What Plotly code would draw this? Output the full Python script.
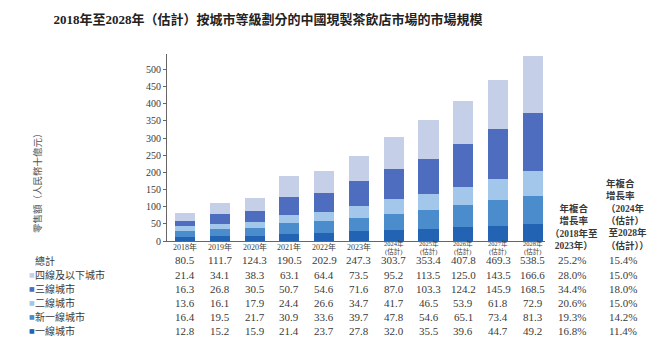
import plotly.graph_objects as go

years = ["2018年", "2019年", "2020年", "2021年", "2022年", "2023年",
         "2024年<br>(估計)", "2025年<br>(估計)", "2026年<br>(估計)", "2027年<br>(估計)", "2028年<br>(估計)"]
total = [80.5, 111.7, 124.3, 190.5, 202.9, 247.3, 303.7, 353.4, 407.8, 469.3, 538.5]
tier4 = [21.4, 34.1, 38.3, 63.1, 64.4, 73.5, 95.2, 113.5, 125.0, 143.5, 166.6]
tier3 = [16.3, 26.8, 30.5, 50.7, 54.6, 71.6, 87.0, 103.3, 124.2, 145.9, 168.5]
tier2 = [13.6, 16.1, 17.9, 24.4, 26.6, 34.7, 41.7, 46.5, 53.9, 61.8, 72.9]
newtier1 = [16.4, 19.5, 21.7, 30.9, 33.6, 39.7, 47.8, 54.6, 65.1, 73.4, 81.3]
tier1 = [12.8, 15.2, 15.9, 21.4, 23.7, 27.8, 32.0, 35.5, 39.6, 44.7, 49.2]
cagr1 = ["25.2%", "28.0%", "34.4%", "20.6%", "19.3%", "16.8%"]
cagr2 = ["15.4%", "15.0%", "18.0%", "15.0%", "14.2%", "11.4%"]
row_labels = ["總計", "四線及以下城市", "三線城市", "二線城市", "新一線城市", "一線城市"]

colors = {
    "一線城市": "#2263B3",
    "新一線城市": "#4B8CCD",
    "二線城市": "#A2C7EB",
    "三線城市": "#4E6DBE",
    "四線及以下城市": "#C5CFE8",
}

SERIF = "Liberation Serif, Noto Sans CJK TC"
CJK = "Noto Sans CJK TC"
TXT = "#3a3a3a"

x = list(range(len(years)))
fig = go.Figure()
for name, vals in [("一線城市", tier1), ("新一線城市", newtier1), ("二線城市", tier2),
                   ("三線城市", tier3), ("四線及以下城市", tier4)]:
    fig.add_trace(go.Bar(x=x, y=vals, name=name, marker_color=colors[name],
                         marker_line_width=0, width=0.58))

ann = []
# x category labels
for i, lab in enumerate(years):
    two = "<br>" in lab
    ann.append(dict(x=i, y=-0.034, xref="x", yref="paper", text=lab, showarrow=False,
                    xanchor="center", yanchor="middle",
                    font=dict(family=SERIF, size=6.5 if two else 8, color=TXT)))

row_y = [-0.104, -0.180, -0.256, -0.331, -0.406, -0.481]
rows = [total, tier4, tier3, tier2, newtier1, tier1]
for r, (yy, vals) in enumerate(zip(row_y, rows)):
    for i, v in enumerate(vals):
        ann.append(dict(x=i, y=yy, xref="x", yref="paper", text=f"{v:.1f}", showarrow=False,
                        xanchor="center", yanchor="middle", font=dict(family=SERIF, size=11, color=TXT)))
    ann.append(dict(x=1.071, y=yy, xref="paper", yref="paper", text=cagr1[r],
                    showarrow=False, xanchor="center", yanchor="middle",
                    font=dict(family=SERIF, size=11, color=TXT)))
    ann.append(dict(x=1.206, y=yy, xref="paper", yref="paper", text=cagr2[r],
                    showarrow=False, xanchor="center", yanchor="middle",
                    font=dict(family=SERIF, size=11, color=TXT)))
    # row label
    ann.append(dict(x=-0.355, y=yy, xref="paper", yref="paper", text=row_labels[r], showarrow=False,
                    xanchor="left", yanchor="middle", font=dict(family=CJK, size=10, color=TXT)))
    if r > 0:
        ann.append(dict(x=-0.370, y=yy, xref="paper", yref="paper", text="■", showarrow=False,
                        xanchor="left", yanchor="middle",
                        font=dict(family="DejaVu Sans", size=6, color=colors[row_labels[r]])))

# CAGR headers
ann.append(dict(x=1.076, y=-0.062, xref="paper", yref="paper", xanchor="center", yanchor="bottom",
                text="<b>年複合<br>增長率<br>（2018年至<br>2023年）</b>", showarrow=False,
                align="center", font=dict(family=SERIF, size=9.5, color=TXT)))
ann.append(dict(x=1.155, y=-0.062, xref="paper", yref="paper", xanchor="left", yanchor="bottom",
                text="<b>年複合<br>增長率<br>（2024年<br>（估計）<br> 至2028年<br>（估計））</b>",
                showarrow=False, align="left", font=dict(family=SERIF, size=9.5, color=TXT)))

# y-axis title
ann.append(dict(x=-0.344, y=0.326, xref="paper", yref="paper", text="零售額（人民幣十億元）",
                textangle=-90, showarrow=False, xanchor="center", yanchor="middle",
                font=dict(family=CJK, size=9.5, color="#555555")))

fig.update_layout(
    width=660, height=354,
    margin=dict(l=167, r=115, t=54, b=113),
    barmode="stack",
    showlegend=False,
    plot_bgcolor="white", paper_bgcolor="white",
    title=dict(text="<b>2018年至2028年（估計）按城市等級劃分的中國現製茶飲店市場的市場規模</b>",
               x=0.406, xanchor="center", xref="container", y=0.944, yanchor="middle",
               font=dict(family=SERIF, size=13, color="#222222")),
    annotations=ann,
    xaxis=dict(range=[-0.52, 10.35], showticklabels=False, showgrid=False, zeroline=False,
               showline=True, linecolor="#666666", linewidth=1, ticks=""),
    yaxis=dict(range=[0, 545], tickvals=list(range(0, 501, 50)), showgrid=False, zeroline=False,
               showline=True, linecolor="#666666", linewidth=1, ticks="outside", ticklen=3,
               tickcolor="#666666", tickfont=dict(family=SERIF, size=10, color=TXT)),
)

fig.write_html("out.html")
